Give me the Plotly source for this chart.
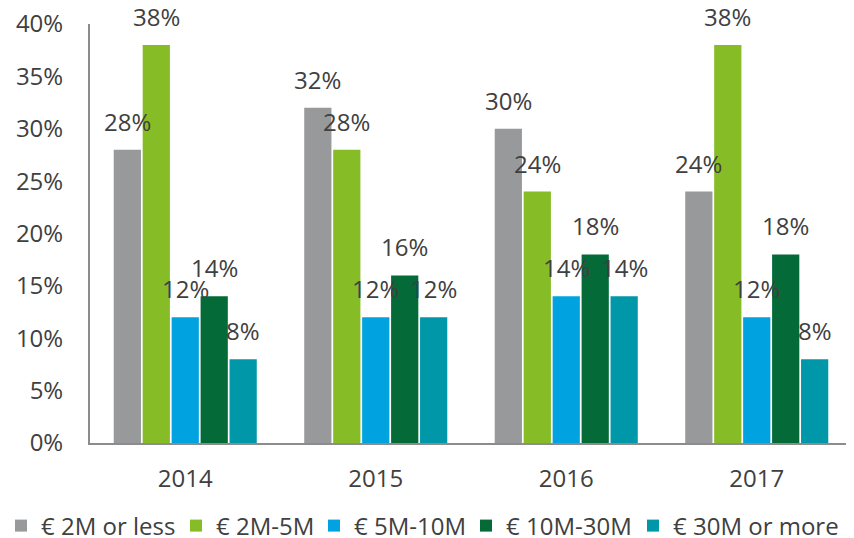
import plotly.graph_objects as go

years = ["2014", "2015", "2016", "2017"]
series_names = ["€ 2M or less", "€ 2M-5M", "€ 5M-10M", "€ 10M-30M", "€ 30M or more"]
s_2m_or_less = [28, 32, 30, 24]
s_2m_5m = [38, 28, 24, 38]
s_5m_10m = [12, 12, 14, 12]
s_10m_30m = [14, 16, 18, 18]
s_30m_more = [8, 12, 14, 8]
colors = ["#97999B", "#86BC25", "#00A3E0", "#046A38", "#0097A9"]

all_series = [s_2m_or_less, s_2m_5m, s_5m_10m, s_10m_30m, s_30m_more]

PAGE_MARGIN = 8  # default body margin of the html page
W, H = 854 - PAGE_MARGIN, 538 - PAGE_MARGIN
margin = dict(l=90 - PAGE_MARGIN, r=2, t=24 - PAGE_MARGIN, b=95, autoexpand=False)
bargap = 0.24
font_fam = "Open Sans, sans-serif"
txt_col = "#404040"
fs = 24

# legend entry text start positions (px from the window's left)
legend_text_x = [47, 222, 360, 512, 679]
legend_mid_px = 526

fig = go.Figure()
legend_ids = ["legend"] + [f"legend{k}" for k in range(2, len(all_series) + 1)]
for name, vals, col, lid in zip(series_names, all_series, colors, legend_ids):
    fig.add_trace(go.Bar(x=years, y=vals, name=name, legend=lid, showlegend=True,
                         marker=dict(color=col, line=dict(width=0))))

plot_w = W - margin["l"] - margin["r"]
plot_h = H - margin["t"] - margin["b"]
slot_px = plot_w / len(years) * (1 - bargap) / len(all_series)
annotations = []
for i, vals in enumerate(all_series):
    for j, v in enumerate(vals):
        annotations.append(dict(
            x=j, y=v, xref="x", yref="y", text=f"{v}%", showarrow=False,
            xshift=(i - (len(all_series) - 1) / 2) * slot_px, yshift=10,
            yanchor="bottom", font=dict(size=fs, color=txt_col, family=font_fam)))

legends = {}
for lid, tx in zip(legend_ids, legend_text_x):
    legends[lid] = dict(orientation="h", visible=True,
                        x=(tx - PAGE_MARGIN - 46 - margin["l"]) / plot_w, xanchor="left",
                        y=-(legend_mid_px - PAGE_MARGIN - (H - margin["b"])) / plot_h,
                        yanchor="middle",
                        font=dict(size=fs, color=txt_col), itemwidth=30,
                        bgcolor="rgba(0,0,0,0)")

fig.update_layout(
    width=W, height=H, margin=margin, showlegend=True,
    paper_bgcolor="white", plot_bgcolor="white",
    barmode="group", bargap=bargap, bargroupgap=0.06,
    font=dict(family=font_fam, size=fs, color=txt_col),
    annotations=annotations,
    xaxis=dict(type="category", showline=True, linecolor="#8C8C8C", linewidth=2, showgrid=False,
               ticks="", ticklabelstandoff=13, tickfont=dict(size=fs)),
    yaxis=dict(range=[0, 40], dtick=5, ticksuffix="%", showline=True, linecolor="#8C8C8C",
               linewidth=2, showgrid=False, zeroline=False, ticks="",
               ticklabelstandoff=20, ticklabeloverflow="allow", tickfont=dict(size=fs)),
    **legends,
)

fig.write_html("out.html")
